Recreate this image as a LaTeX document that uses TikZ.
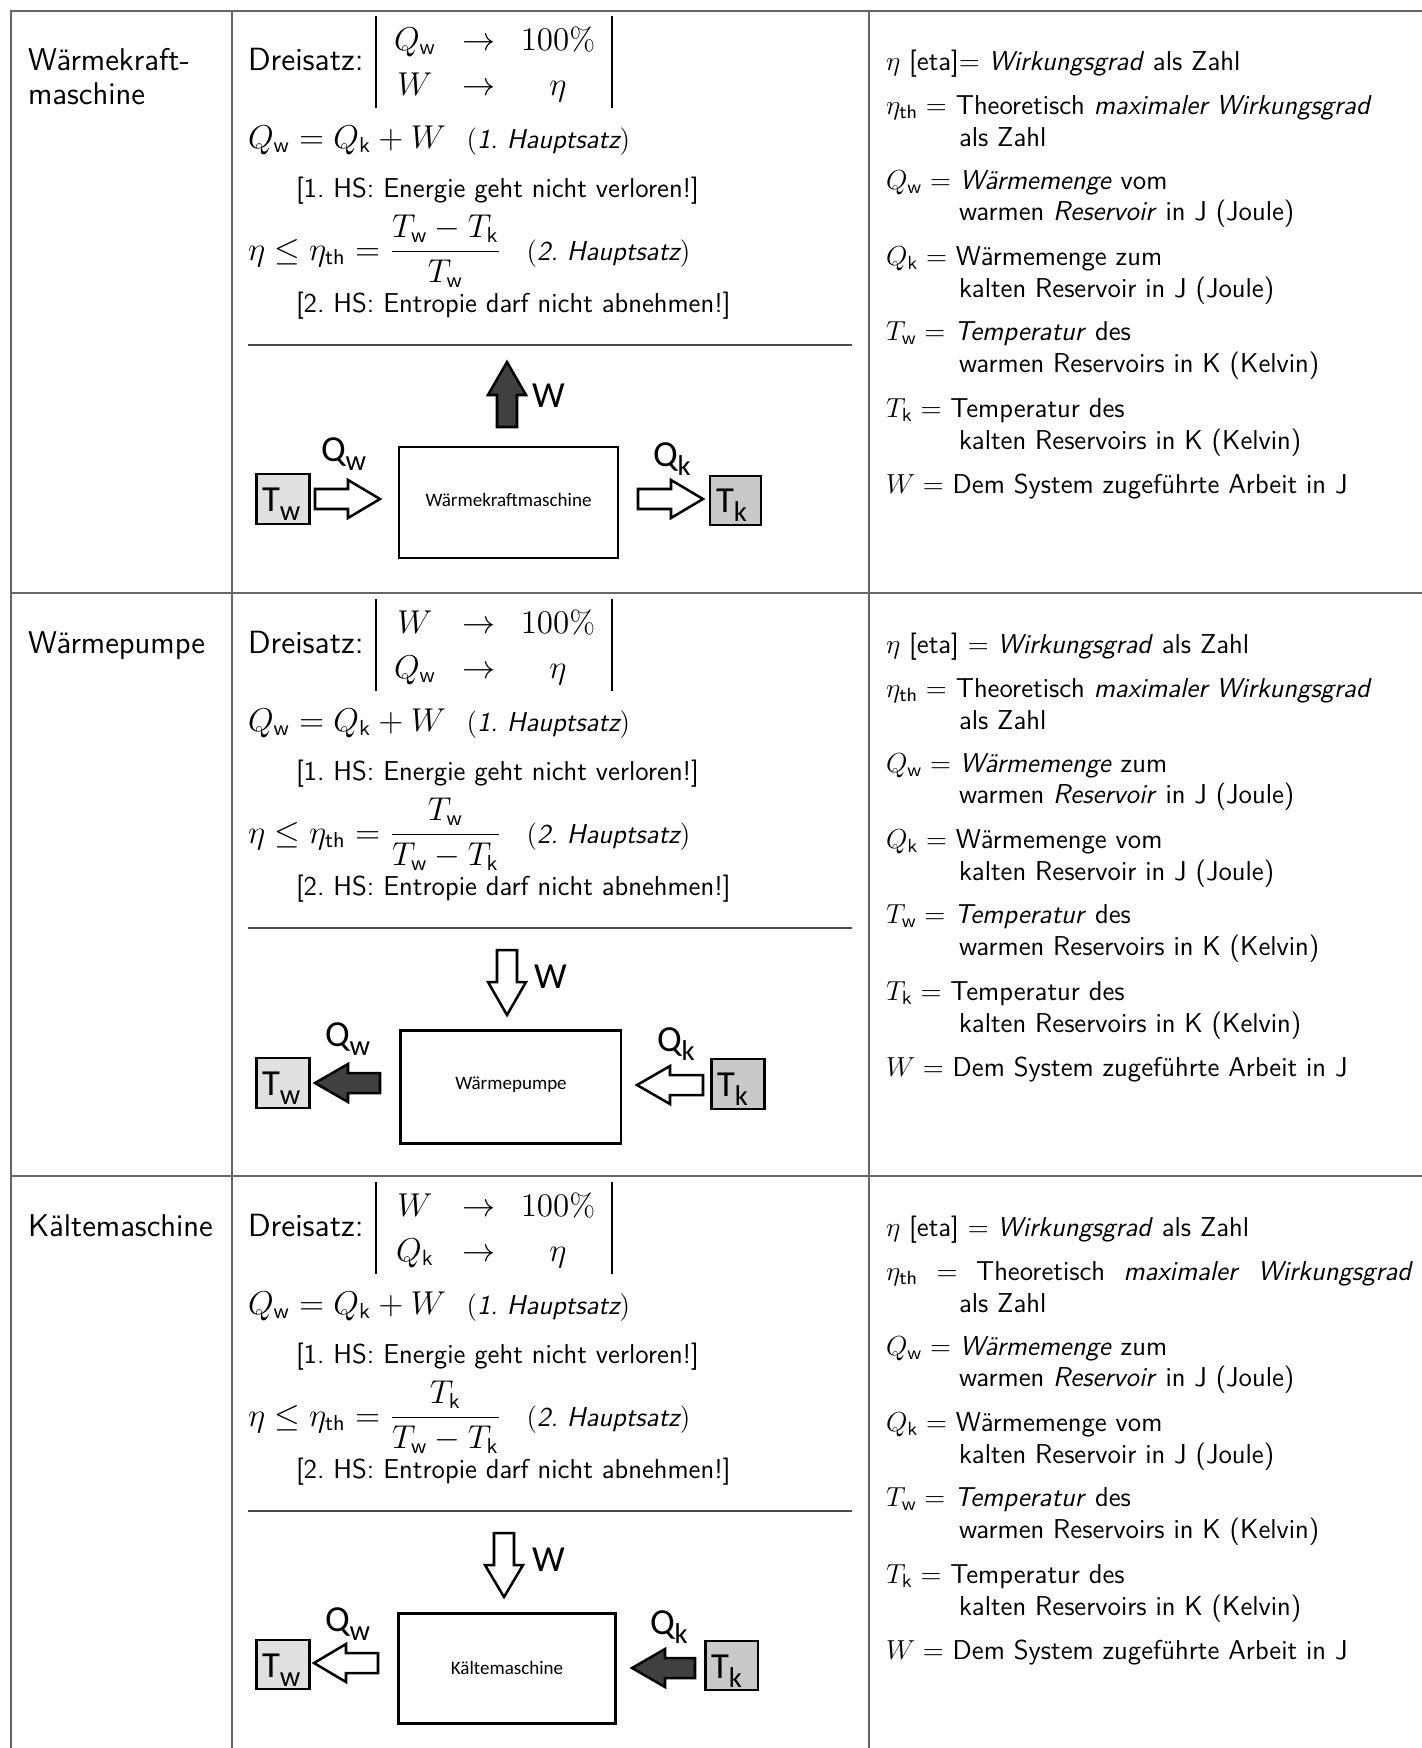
\documentclass[tikz,border=0pt]{standalone}
\usepackage{amsmath}
\usepackage{fontspec}
\newfontfamily\calfont{Carlito}
\definecolor{gridcol}{gray}{0.4}
\definecolor{rulecol}{gray}{0.3}
\definecolor{twfill}{gray}{0.88}
\definecolor{tkfill}{gray}{0.79}
\definecolor{darkarr}{gray}{0.25}
\newcommand{\sbs}[1]{_{\textsf{#1}}}
\newcommand{\eqm}[1]{{\fontsize{13.5}{16}\selectfont$#1$}}
\newcommand{\clab}[2]{#1\raisebox{-0.25em}{\fontsize{12.5}{12.5}\selectfont #2}}
\newcommand{\harr}[5]{\draw[#5] (#1,{#4-10}) -- (#2,{#4-10}) -- (#2,{#4-19}) -- (#3,#4) -- (#2,{#4+19}) -- (#2,{#4+10}) -- (#1,{#4+10}) -- cycle;}
\newcommand{\varr}[5]{\draw[#5] ({#4-10},#1) -- ({#4-10},#2) -- ({#4-19},#2) -- (#4,#3) -- ({#4+19},#2) -- ({#4+10},#2) -- ({#4+10},#1) -- cycle;}
\newcommand{\desclines}[2]{%
  \node[base] (#1d2) at (886,114) {#2};
  \node[base] (#1d3) at (959,146) {als Zahl};
  \node[base] (#1d4) at (886,189) {$Q\sbs{w} =$ \textit{Wärmemenge} zum};
  \node[base] (#1d5) at (959,220) {warmen \textit{Reservoir} in J (Joule)};
  \node[base] (#1d6) at (886,265) {$Q\sbs{k} =$ Wärmemenge vom};
  \node[base] (#1d7) at (959,297) {kalten Reservoir in J (Joule)};
  \node[base] (#1d8) at (886,340) {$T\sbs{w} =$ \textit{Temperatur} des};
  \node[base] (#1d9) at (959,372) {warmen Reservoirs in K (Kelvin)};
  \node[base] (#1d10) at (886,417) {$T\sbs{k} =$ Temperatur des};
  \node[base] (#1d11) at (959,449) {kalten Reservoirs in K (Kelvin)};
  \node[base] (#1d12) at (886,493) {$W =$ Dem System zugeführte Arbeit in J};
}
\begin{document}
\frenchspacing
\begin{tikzpicture}[x=0.436pt,y=-0.436pt,
  every node/.style={inner sep=0pt,outer sep=0pt},
  base/.style={anchor=base west,font=\sffamily\fontsize{11.9}{14.5}\selectfont},
  big/.style={anchor=base west,font=\sffamily\fontsize{13.7}{17}\selectfont},
  drei/.style={anchor=base west,font=\sffamily\fontsize{14}{17}\selectfont},
  cell/.style={anchor=base,font=\sffamily\fontsize{13.8}{16}\selectfont},
  grid/.style={draw=gridcol,line width=0.65pt},
  bar/.style={draw=black,line width=0.5pt},
  sep/.style={draw=rulecol,line width=0.9pt},
  resvw/.style={draw=black,fill=twfill,line width=1.1pt},
  resvk/.style={draw=black,fill=tkfill,line width=1.1pt},
  machine/.style={draw=black,line width=1.3pt},
  openarr/.style={draw=black,fill=white,line width=1.1pt,line join=miter},
  fullarr/.style={draw=black,fill=darkarr,line width=1.1pt,line join=miter},
  dlabel/.style={anchor=base west,font=\calfont\fontsize{16}{16}\selectfont},
  mlabel/.style={font=\calfont\fontsize{8.3}{10}\selectfont},
]
\useasboundingbox (0,0) rectangle (1422,1748);
% table grid
\draw[grid] (1422,11) -- (11,11) -- (11,1748);
\draw[grid] (232,11) -- (232,1748);
\draw[grid] (869,11) -- (869,1748);
\draw[grid] (11,593) -- (1422,593);
\draw[grid] (11,1176) -- (1422,1176);

% ================= Row 1 =================
\begin{scope}
\node[big] (r1t1) at (28,70) {Wärmekraft-};
\node[big] (r1t2) at (28,104) {maschine};
\node[drei] (r1drei) at (248,70) {Dreisatz:};
\draw[bar] (376,16) -- (376,108);
\draw[bar] (612,16) -- (612,108);
\node[cell] (r1a1) at (415,50) {$Q\sbs{w}$};
\node[cell] (r1a2) at (479,50) {$\rightarrow$};
\node[cell] (r1a3) at (558,50) {$100\%$};
\node[cell] (r1b1) at (415,95) {$W$};
\node[cell] (r1b2) at (479,95) {$\rightarrow$};
\node[cell] (r1b3) at (558,95) {$\eta$};
\node[base] (r1e1) at (248,148) {\eqm{Q\sbs{w} = Q\sbs{k} + W}\hspace{9pt}$(\textit{1. Hauptsatz})$};
\node[base] (r1n1) at (296,197) {[1. HS: Energie geht nicht verloren!]};
\node[base] (r1e2) at (248,260) {\eqm{\eta \leq \eta\sbs{th} = \dfrac{T\sbs{w} - T\sbs{k}}{T\sbs{w}}}\hspace{11pt}$(\textit{2. Hauptsatz})$};
\node[base] (r1n2) at (296,312) {[2. HS: Entropie darf nicht abnehmen!]};
\draw[sep] (248,345) -- (852,345);
% diagram
\varr{427}{395}{362}{507}{fullarr}
\harr{315}{348}{380}{499}{openarr}
\harr{638}{671}{703}{499}{openarr}
\draw[resvw] (256.5,474) rectangle (309.6,524);
\draw[machine] (399,447) rectangle (618,558);
\draw[resvk] (710,476) rectangle (761,525);
\node[dlabel] (r1W) at (532,407) {W};
\node[dlabel] (r1Qw) at (321,461) {\clab{Q}{w}};
\node[dlabel] (r1Qk) at (653,466) {\clab{Q}{k}};
\node[dlabel] (r1Tw) at (262,511) {\clab{T}{w}};
\node[dlabel] (r1Tk) at (716,512) {\clab{T}{k}};
\node[mlabel] (r1m) at (508.5,500) {Wärmekraftmaschine};
% description
\node[base] (r1d1) at (886,70) {$\eta$ [eta]$=$ \textit{Wirkungsgrad} als Zahl};
\node[base] (r1d2) at (886,114) {$\eta\sbs{th} =$ Theoretisch \textit{maximaler Wirkungsgrad}};
\node[base] (r1d3) at (959,146) {als Zahl};
\node[base] (r1d4) at (886,189) {$Q\sbs{w} =$ \textit{Wärmemenge} vom};
\node[base] (r1d5) at (959,220) {warmen \textit{Reservoir} in J (Joule)};
\node[base] (r1d6) at (886,265) {$Q\sbs{k} =$ Wärmemenge zum};
\node[base] (r1d7) at (959,297) {kalten Reservoir in J (Joule)};
\node[base] (r1d8) at (886,340) {$T\sbs{w} =$ \textit{Temperatur} des};
\node[base] (r1d9) at (959,372) {warmen Reservoirs in K (Kelvin)};
\node[base] (r1d10) at (886,417) {$T\sbs{k} =$ Temperatur des};
\node[base] (r1d11) at (959,449) {kalten Reservoirs in K (Kelvin)};
\node[base] (r1d12) at (886,493) {$W =$ Dem System zugeführte Arbeit in J};
\end{scope}

% ================= Row 2 =================
\begin{scope}[shift={(0,583)}]
\node[big] (r2t1) at (28,70) {Wärmepumpe};
\node[drei] (r2drei) at (248,70) {Dreisatz:};
\draw[bar] (376,16) -- (376,108);
\draw[bar] (612,16) -- (612,108);
\node[cell] (r2a1) at (415,50) {$W$};
\node[cell] (r2a2) at (479,50) {$\rightarrow$};
\node[cell] (r2a3) at (558,50) {$100\%$};
\node[cell] (r2b1) at (415,95) {$Q\sbs{w}$};
\node[cell] (r2b2) at (479,95) {$\rightarrow$};
\node[cell] (r2b3) at (558,95) {$\eta$};
\node[base] (r2e1) at (248,148) {\eqm{Q\sbs{w} = Q\sbs{k} + W}\hspace{9pt}$(\textit{1. Hauptsatz})$};
\node[base] (r2n1) at (296,197) {[1. HS: Energie geht nicht verloren!]};
\node[base] (r2e2) at (248,260) {\eqm{\eta \leq \eta\sbs{th} = \dfrac{T\sbs{w}}{T\sbs{w} - T\sbs{k}}}\hspace{11pt}$(\textit{2. Hauptsatz})$};
\node[base] (r2n2) at (296,312) {[2. HS: Entropie darf nicht abnehmen!]};
\draw[sep] (248,345) -- (852,345);
% diagram
\varr{367}{399}{432}{507}{openarr}
\harr{380}{348}{315}{500}{fullarr}
\harr{703}{670}{637}{502}{openarr}
\draw[resvw] (256.5,475) rectangle (309.6,525);
\draw[machine] (400.6,447) rectangle (621,560);
\draw[resvk] (711.6,476) rectangle (764.7,526);
\node[dlabel] (r2W) at (534,405) {W};
\node[dlabel] (r2Qw) at (325,463) {\clab{Q}{w}};
\node[dlabel] (r2Qk) at (657,468) {\clab{Q}{k}};
\node[dlabel] (r2Tw) at (262,512) {\clab{T}{w}};
\node[dlabel] (r2Tk) at (717,513) {\clab{T}{k}};
\node[mlabel] (r2m) at (511,502) {Wärmepumpe};
% description
\node[base] (r2d1) at (886,70) {$\eta$ [eta] $=$ \textit{Wirkungsgrad} als Zahl};
\desclines{r2}{$\eta\sbs{th} =$ Theoretisch \textit{maximaler Wirkungsgrad}}
\end{scope}

% ================= Row 3 =================
\begin{scope}[shift={(0,1166)}]
\node[big] (r3t1) at (28,70) {Kältemaschine};
\node[drei] (r3drei) at (248,70) {Dreisatz:};
\draw[bar] (376,16) -- (376,108);
\draw[bar] (612,16) -- (612,108);
\node[cell] (r3a1) at (415,50) {$W$};
\node[cell] (r3a2) at (479,50) {$\rightarrow$};
\node[cell] (r3a3) at (558,50) {$100\%$};
\node[cell] (r3b1) at (415,95) {$Q\sbs{k}$};
\node[cell] (r3b2) at (479,95) {$\rightarrow$};
\node[cell] (r3b3) at (558,95) {$\eta$};
\node[base] (r3e1) at (248,148) {\eqm{Q\sbs{w} = Q\sbs{k} + W}\hspace{9pt}$(\textit{1. Hauptsatz})$};
\node[base] (r3n1) at (296,197) {[1. HS: Energie geht nicht verloren!]};
\node[base] (r3e2) at (248,260) {\eqm{\eta \leq \eta\sbs{th} = \dfrac{T\sbs{k}}{T\sbs{w} - T\sbs{k}}}\hspace{11pt}$(\textit{2. Hauptsatz})$};
\node[base] (r3n2) at (296,312) {[2. HS: Entropie darf nicht abnehmen!]};
\draw[sep] (248,345) -- (852,345);
% diagram
\varr{367}{399}{431}{504}{openarr}
\harr{378}{346}{314}{497}{openarr}
\harr{695}{665}{632}{502}{fullarr}
\draw[resvw] (256.5,474) rectangle (309.6,523);
\draw[machine] (398.6,447) rectangle (615.7,557);
\draw[resvk] (705.5,475) rectangle (757.8,524);
\node[dlabel] (r3W) at (532,405) {W};
\node[dlabel] (r3Qw) at (325,465) {\clab{Q}{w}};
\node[dlabel] (r3Qk) at (650,468) {\clab{Q}{k}};
\node[dlabel] (r3Tw) at (262,511) {\clab{T}{w}};
\node[dlabel] (r3Tk) at (711,512) {\clab{T}{k}};
\node[mlabel] (r3m) at (507,502) {Kältemaschine};
% description
\node[base] (r3d1) at (886,70) {$\eta$ [eta] $=$ \textit{Wirkungsgrad} als Zahl};
\desclines{r3}{\makebox[229.8pt][s]{$\eta\sbs{th}$ $=$ Theoretisch \textit{maximaler} \textit{Wirkungsgrad}}}
\end{scope}
\end{tikzpicture}
\end{document}
